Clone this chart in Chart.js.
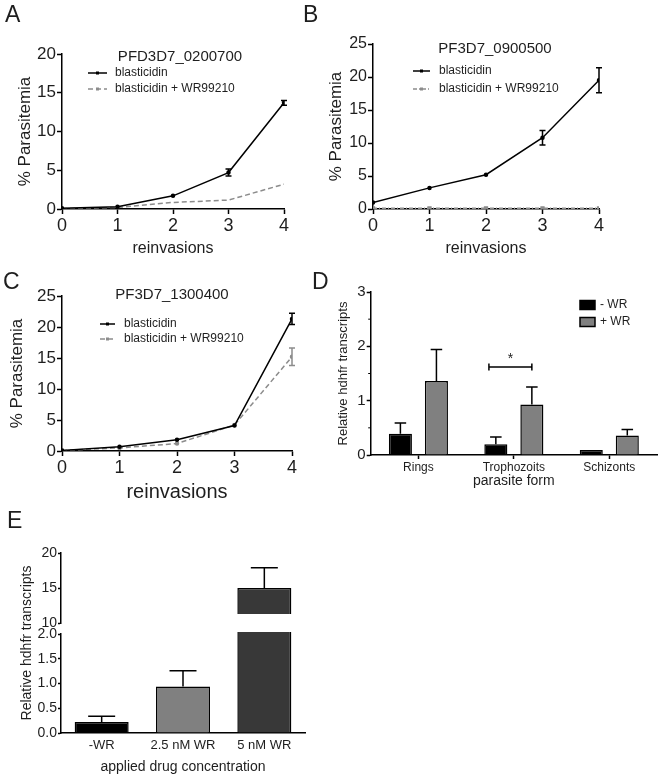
<!DOCTYPE html>
<html>
<head>
<meta charset="utf-8">
<title>Parasitemia and hdhfr transcripts</title>
<script src="https://cdn.jsdelivr.net/npm/chart.js@4.4.1/dist/chart.umd.min.js"></script>
<style>
  body { margin: 0; background: #fff; }
  #fig { position: relative; width: 660px; height: 778px; overflow: hidden; background: #fff; }
  #fig canvas { position: absolute; }
</style>
</head>
<body>
<div id="fig">
  <canvas id="chartA" width="300" height="258" style="left:0;top:0"></canvas>
  <canvas id="chartB" width="360" height="258" style="left:300px;top:0"></canvas>
  <canvas id="chartC" width="300" height="246" style="left:0;top:258px"></canvas>
  <canvas id="chartD" width="360" height="232" style="left:300px;top:258px"></canvas>
  <canvas id="chartE" width="320" height="278" style="left:0;top:500px"></canvas>
  <canvas id="chartEtop" width="320" height="127" style="left:0;top:500px"></canvas>
</div>
<script>
// ---- data ----
const reinvasions = [0, 1, 2, 3, 4];

const aBlast = [0.1, 0.3, 1.7, 4.7, 13.7];
const aBlastErr = [0, 0, 0, 0.45, 0.3];
const aBlastWR = [0.05, 0.2, 0.85, 1.15, 3.2];

const bBlast = [1.0, 3.2, 5.2, 10.8, 19.5];
const bBlastErr = [0, 0, 0, 1.1, 1.9];
const bBlastWR = [0.1, 0.1, 0.1, 0.1, 0.1];

const cBlast = [0.1, 0.7, 1.8, 4.1, 21.3];
const cBlastErr = [0, 0, 0, 0, 0.9];
const cBlastWR = [0.1, 0.5, 1.2, 4.2, 15.2];
const cBlastWRErr = [0, 0, 0, 0, 1.4];

const forms = ['Rings', 'Trophozoits', 'Schizonts'];
const dMinusWR = [0.39, 0.2, 0.09];
const dMinusWRErr = [0.2, 0.13, 0];
const dPlusWR = [1.36, 0.93, 0.36];
const dPlusWRErr = [0.58, 0.32, 0.11];
const dSigCategory = 1;
const dSigLevel = 1.62;

const concentrations = ['-WR', '2.5 nM WR', '5 nM WR'];
const eValues = [0.22, 0.94, 15];
const eErr = [0.12, 0.32, 2.9];

// ---- shared look ----
const FONT = '"Liberation Sans", Arial, Helvetica, sans-serif';
const INK = '#1e1e1e';
Chart.defaults.font.family = FONT;
Chart.defaults.color = INK;

const pts = ys => reinvasions.map((x, i) => ({ x: x, y: ys[i] }));

// error bars drawn from the dataset's own scales
const errorBars = {
  id: 'errorBars',
  afterDatasetsDraw(chart) {
    const ctx = chart.ctx;
    chart.data.datasets.forEach((ds, i) => {
      if (!ds.errors) return;
      const meta = chart.getDatasetMeta(i);
      const ys = chart.scales[meta.yAxisID];
      ctx.save();
      ctx.strokeStyle = ds.errorColor || ds.borderColor;
      ctx.lineWidth = 1.5;
      meta.data.forEach((el, j) => {
        const e = ds.errors[j];
        const v = meta.controller.getParsed(j).y;
        if (!e || v < ys.min || v > ys.max) return;
        const top = ys.getPixelForValue(v + e);
        ctx.beginPath();
        if (meta.type === 'bar') {
          const h = el.width / 4;
          ctx.moveTo(el.x, el.y); ctx.lineTo(el.x, top);
          ctx.moveTo(el.x - h, top); ctx.lineTo(el.x + h, top);
        } else {
          const bot = ys.getPixelForValue(v - e), h = 3;
          ctx.moveTo(el.x, bot); ctx.lineTo(el.x, top);
          ctx.moveTo(el.x - h, top); ctx.lineTo(el.x + h, top);
          ctx.moveTo(el.x - h, bot); ctx.lineTo(el.x + h, bot);
        }
        ctx.stroke();
      });
      ctx.restore();
    });
  }
};

// panel letters, in-plot titles and legends
function decor(items) {
  return {
    id: 'decor',
    afterDraw(chart) {
      const ctx = chart.ctx;
      items.forEach(it => {
        ctx.save();
        if (it.ds !== undefined) {
          const ds = chart.data.datasets[it.ds];
          if (it.box) {
            ctx.fillStyle = ds.backgroundColor;
            ctx.strokeStyle = ds.borderColor;
            ctx.lineWidth = 1.5;
            ctx.fillRect(it.x1, it.y - it.h / 2, it.x2 - it.x1, it.h);
            ctx.strokeRect(it.x1, it.y - it.h / 2, it.x2 - it.x1, it.h);
          } else {
            ctx.strokeStyle = ds.borderColor;
            ctx.lineWidth = ds.borderWidth;
            ctx.setLineDash(ds.borderDash || []);
            ctx.beginPath();
            ctx.moveTo(it.x1, it.y); ctx.lineTo(it.x2, it.y);
            ctx.stroke();
            ctx.setLineDash([]);
            const mx = (it.x1 + it.x2) / 2;
            ctx.fillStyle = ds.borderColor;
            ctx.fillRect(mx - 1.5, it.y - 1.5, 3, 3);
          }
          ctx.font = '12px ' + FONT;
          ctx.fillStyle = INK;
          ctx.textAlign = 'left';
          ctx.textBaseline = 'middle';
          ctx.fillText(ds.label, it.tx, it.y);
        } else {
          ctx.font = it.size + 'px ' + FONT;
          ctx.fillStyle = INK;
          ctx.textAlign = it.align || 'left';
          ctx.textBaseline = 'middle';
          ctx.translate(it.x, it.y);
          if (it.rotate) ctx.rotate(-Math.PI / 2);
          ctx.fillText(it.text, 0, 0);
        }
        ctx.restore();
      });
    }
  };
}

const axisBorder = { color: '#000', width: 1.5 };
const tickGrid = len => ({ drawOnChartArea: false, color: '#000', tickLength: len, tickWidth: 1.5 });

function lineOptions(p) {
  return {
    responsive: false,
    animation: false,
    layout: { padding: { left: 0, top: p.top, right: p.right, bottom: 0 } },
    plugins: { legend: { display: false }, tooltip: { enabled: false } },
    scales: {
      x: {
        type: 'linear', min: 0, max: 4,
        afterFit: s => { s.height = p.xh; },
        border: axisBorder,
        grid: tickGrid(5),
        ticks: { stepSize: 1, color: INK, padding: 1, font: { size: 18 } },
        title: { display: true, text: 'reinvasions', color: INK, font: { size: p.xTitleSize }, padding: 0 }
      },
      y: {
        min: 0, max: p.yMax,
        afterFit: s => { s.width = p.yw; },
        border: axisBorder,
        grid: tickGrid(5),
        ticks: { stepSize: 5, color: INK, padding: 1, font: { size: p.yTickSize } },
        title: { display: true, text: '% Parasitemia', color: INK, font: { size: 17 }, padding: { top: p.yTitlePad, bottom: 0 } }
      }
    }
  };
}

const solid = (label, ys, errs) => ({
  label: label, data: pts(ys), errors: errs,
  borderColor: '#000', backgroundColor: '#000', borderWidth: 1.5,
  pointRadius: 1.5, pointStyle: 'circle'
});

// ---- A ----
new Chart(document.getElementById('chartA'), {
  type: 'line',
  data: { datasets: [
    solid('blasticidin', aBlast, aBlastErr),
    { label: 'blasticidin + WR99210', data: pts(aBlastWR), borderColor: '#8c8c8c', backgroundColor: '#8c8c8c',
      borderWidth: 1.5, borderDash: [5, 3], pointRadius: 0 }
  ] },
  options: lineOptions({ top: 54, right: 16, xh: 49, yw: 62, yMax: 20, yTickSize: 17, yTitlePad: 15, xTitleSize: 16 }),
  plugins: [errorBars, decor([
    { text: 'A', x: 5, y: 16, size: 23 },
    { text: 'PFD3D7_0200700', x: 180, y: 57, size: 15, align: 'center' },
    { ds: 0, x1: 88, x2: 107, y: 73, tx: 115 },
    { ds: 1, x1: 88, x2: 107, y: 89, tx: 115 }
  ])]
});

// ---- B ----
new Chart(document.getElementById('chartB'), {
  type: 'line',
  data: { datasets: [
    solid('blasticidin', bBlast, bBlastErr),
    { label: 'blasticidin + WR99210', data: pts(bBlastWR), borderColor: '#8c8c8c', backgroundColor: '#8c8c8c',
      borderWidth: 1.5, borderDash: [4, 2, 1, 2], pointRadius: 2, pointStyle: 'rect' }
  ] },
  options: lineOptions({ top: 44, right: 61, xh: 49, yw: 73, yMax: 25, yTickSize: 16, yTitlePad: 26, xTitleSize: 16 }),
  plugins: [errorBars, decor([
    { text: 'B', x: 3, y: 16, size: 23 },
    { text: 'PF3D7_0900500', x: 195, y: 49, size: 15, align: 'center' },
    { ds: 0, x1: 113, x2: 130, y: 71, tx: 139 },
    { ds: 1, x1: 113, x2: 130, y: 89, tx: 139 }
  ])]
});

// ---- C ----
new Chart(document.getElementById('chartC'), {
  type: 'line',
  data: { datasets: [
    solid('blasticidin', cBlast, cBlastErr),
    { label: 'blasticidin + WR99210', data: pts(cBlastWR), errors: cBlastWRErr,
      borderColor: '#8c8c8c', backgroundColor: '#8c8c8c', borderWidth: 1.5, borderDash: [5, 3],
      pointRadius: 1.5 }
  ] },
  options: lineOptions({ top: 38, right: 8, xh: 53, yw: 62, yMax: 25, yTickSize: 17, yTitlePad: 7, xTitleSize: 20 }),
  plugins: [errorBars, decor([
    { text: 'C', x: 3, y: 25, size: 23 },
    { text: 'PF3D7_1300400', x: 172, y: 37, size: 15, align: 'center' },
    { ds: 0, x1: 100, x2: 115, y: 66, tx: 124 },
    { ds: 1, x1: 100, x2: 115, y: 81, tx: 124 }
  ])]
});

// ---- D ----
const minorTicks = {
  id: 'minorTicks',
  afterDraw(chart) {
    const s = chart.scales.y, ctx = chart.ctx;
    ctx.save();
    ctx.strokeStyle = '#000';
    ctx.lineWidth = 1;
    for (let i = 0; i < s.ticks.length - 1; i++) {
      const y = s.getPixelForValue((s.ticks[i].value + s.ticks[i + 1].value) / 2);
      ctx.beginPath();
      ctx.moveTo(s.right - 2.5, y); ctx.lineTo(s.right, y);
      ctx.stroke();
    }
    ctx.restore();
  }
};

const sigBracket = {
  id: 'sigBracket',
  afterDraw(chart) {
    const a = chart.getDatasetMeta(0).data[dSigCategory];
    const b = chart.getDatasetMeta(1).data[dSigCategory];
    const y = chart.scales.y.getPixelForValue(dSigLevel);
    const x1 = a.x - a.width * 0.3, x2 = b.x;
    const ctx = chart.ctx;
    ctx.save();
    ctx.strokeStyle = '#000';
    ctx.lineWidth = 1.5;
    ctx.beginPath();
    ctx.moveTo(x1, y); ctx.lineTo(x2, y);
    ctx.moveTo(x1, y - 3.5); ctx.lineTo(x1, y + 3.5);
    ctx.moveTo(x2, y - 3.5); ctx.lineTo(x2, y + 3.5);
    ctx.stroke();
    ctx.font = '14px ' + FONT;
    ctx.fillStyle = INK;
    ctx.textAlign = 'center';
    ctx.textBaseline = 'middle';
    ctx.fillText('*', (x1 + x2) / 2, y - 8);
    ctx.restore();
  }
};

new Chart(document.getElementById('chartD'), {
  type: 'bar',
  data: {
    labels: forms,
    datasets: [
      { label: '- WR', data: dMinusWR, errors: dMinusWRErr, backgroundColor: '#000', borderColor: '#000', borderWidth: 1.5 },
      { label: '+ WR', data: dPlusWR, errors: dPlusWRErr, backgroundColor: '#808080', borderColor: '#000', borderWidth: 1.5 }
    ]
  },
  options: {
    responsive: false,
    animation: false,
    layout: { padding: { left: 0, top: 34, right: 3, bottom: 0 } },
    datasets: { bar: { categoryPercentage: 0.755, barPercentage: 0.64 } },
    plugins: { legend: { display: false }, tooltip: { enabled: false } },
    scales: {
      x: {
        afterFit: s => { s.height = 35; },
        border: axisBorder,
        grid: Object.assign(tickGrid(4), { offset: false }),
        ticks: { color: INK, padding: 1, font: { size: 12 } },
        title: { display: true, text: 'parasite form', color: INK, font: { size: 14 }, padding: { top: 0, bottom: 0 } }
      },
      y: {
        min: 0, max: 3,
        afterFit: s => { s.width = 70.7; },
        border: axisBorder,
        grid: tickGrid(4),
        ticks: { stepSize: 1, color: INK, padding: 1, font: { size: 15 } },
        title: { display: true, text: 'Relative hdhfr transcripts', color: INK, font: { size: 13 }, padding: { top: 36, bottom: 0 } }
      }
    }
  },
  plugins: [errorBars, minorTicks, sigBracket, decor([
    { text: 'D', x: 12, y: 25, size: 23 },
    { ds: 0, box: true, x1: 280, x2: 295, y: 47, h: 9, tx: 300 },
    { ds: 1, box: true, x1: 280, x2: 295, y: 64, h: 9, tx: 300 }
  ])]
});

// ---- E (broken y axis: lower 0-2, upper 10-20) ----
const eColors = ['#000000', '#808080', '#383838'];

new Chart(document.getElementById('chartE'), {
  type: 'bar',
  data: {
    labels: concentrations,
    datasets: [{ label: 'hdhfr', data: eValues, errors: eErr, backgroundColor: eColors, borderColor: '#000',
      borderWidth: 1.5, clip: { left: 0, top: 2, right: 0, bottom: 0 } }]
  },
  options: {
    responsive: false,
    animation: false,
    layout: { padding: { left: 0, top: 134, right: 15, bottom: 0 } },
    datasets: { bar: { categoryPercentage: 0.8, barPercentage: 0.83 } },
    plugins: { legend: { display: false }, tooltip: { enabled: false } },
    scales: {
      x: {
        afterFit: s => { s.height = 45; },
        border: axisBorder,
        grid: { display: false, drawTicks: false },
        ticks: { color: INK, padding: 5, font: { size: 13 } },
        title: { display: true, text: 'applied drug concentration', color: INK, font: { size: 14 }, padding: { top: 0, bottom: 2 } }
      },
      y: {
        min: 0, max: 2,
        afterFit: s => { s.width = 61; },
        border: axisBorder,
        grid: tickGrid(3),
        ticks: { stepSize: 0.5, color: INK, padding: 1, font: { size: 14 }, callback: v => v.toFixed(1) }
      }
    }
  },
  plugins: [errorBars, decor([
    { text: 'E', x: 7, y: 22, size: 23 },
    { text: 'Relative hdhfr transcripts', x: 27.5, y: 143, size: 14, align: 'center', rotate: true }
  ])]
});

new Chart(document.getElementById('chartEtop'), {
  type: 'bar',
  data: {
    labels: concentrations,
    datasets: [{ label: 'hdhfr', data: eValues, errors: eErr, backgroundColor: eColors, borderColor: '#000',
      borderWidth: 1.5, clip: { left: 0, top: 0, right: 0, bottom: -9 } }]
  },
  options: {
    responsive: false,
    animation: false,
    layout: { padding: { left: 0, top: 53, right: 15, bottom: 4 } },
    datasets: { bar: { categoryPercentage: 0.8, barPercentage: 0.83 } },
    plugins: { legend: { display: false }, tooltip: { enabled: false } },
    scales: {
      x: { display: false },
      y: {
        min: 10, max: 20,
        afterFit: s => { s.width = 61; s.paddingBottom = 0; },
        border: axisBorder,
        grid: tickGrid(3),
        ticks: { stepSize: 5, color: INK, padding: 1, font: { size: 14 } }
      }
    }
  },
  plugins: [errorBars]
});
</script>
</body>
</html>
